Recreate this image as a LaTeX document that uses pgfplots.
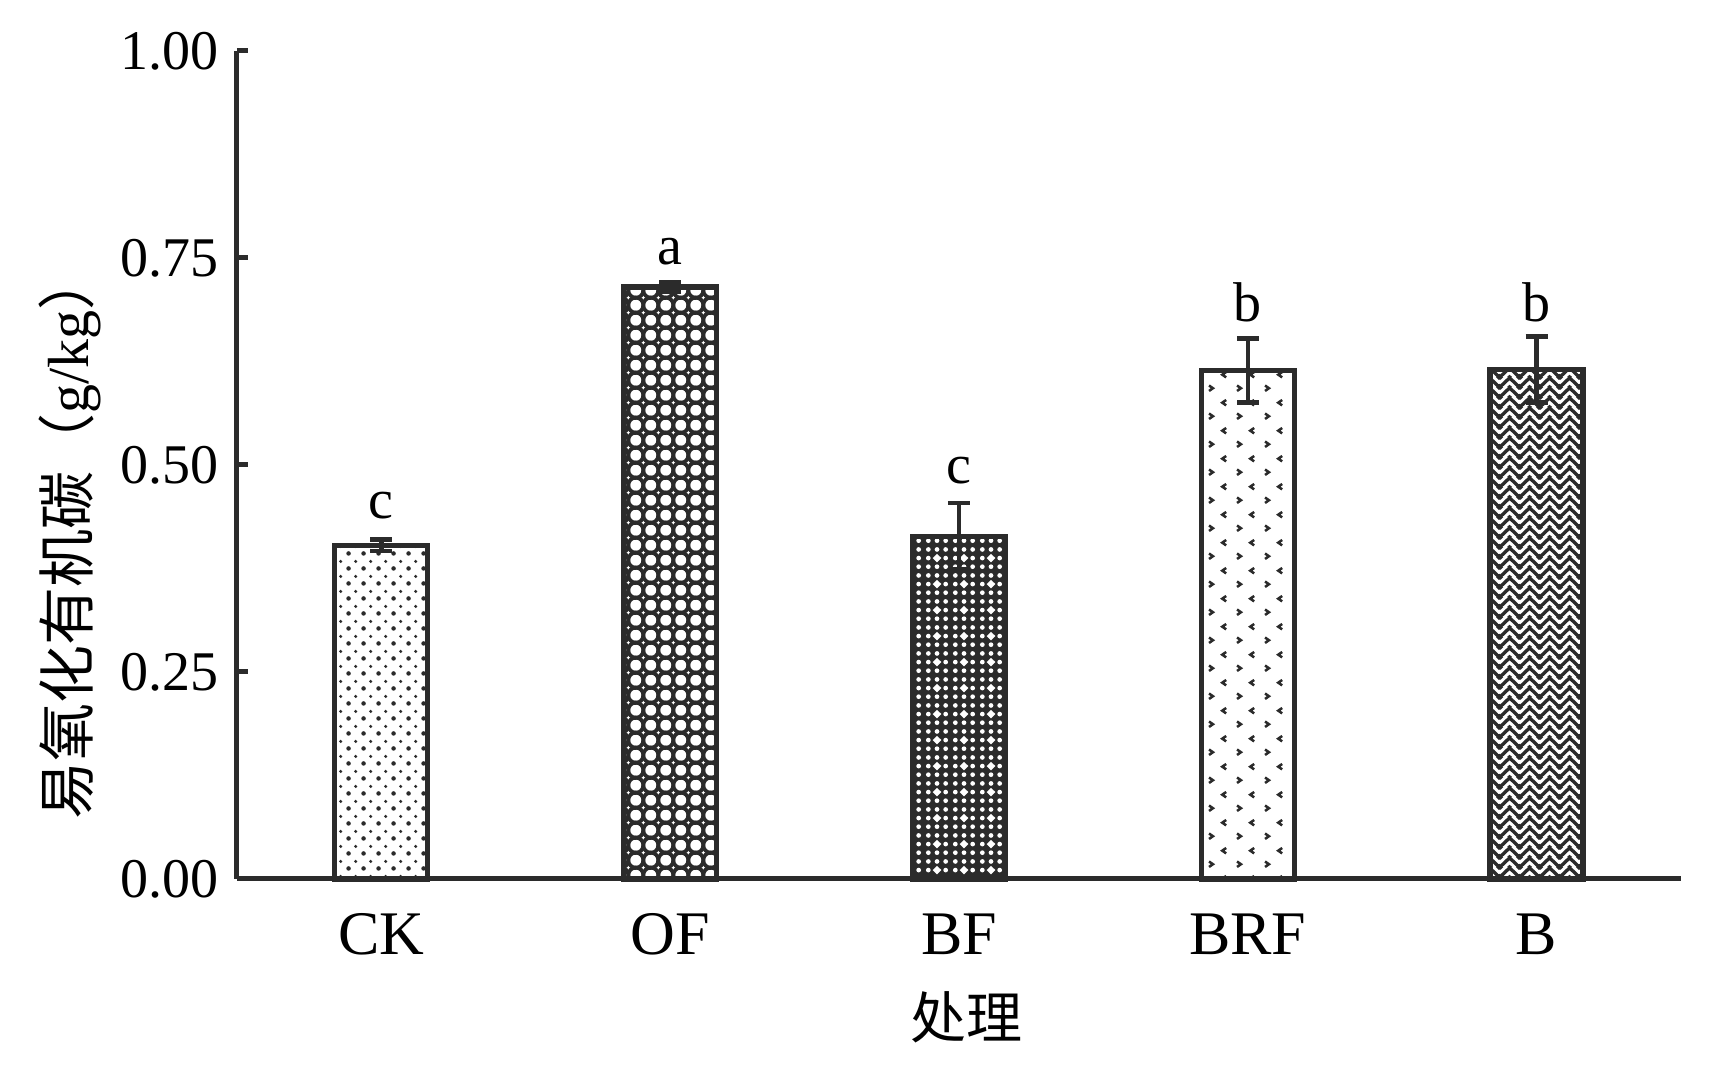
\documentclass[border=0pt]{standalone}
\usepackage{fontspec}
\setmainfont{Liberation Serif}
\newfontfamily\cjk{Noto Sans CJK SC}
\usepackage{pgfplots}
\pgfplotsset{compat=1.18}
\usetikzlibrary{patterns}
\definecolor{ink}{HTML}{2B2B2B}

% CK: staggered dots
\pgfdeclarepatterninherentlycolored{ckdots}{\pgfpointorigin}{\pgfpoint{3.75pt}{3.75pt}}{\pgfpoint{3.75pt}{3.75pt}}{%
  \pgfsetfillcolor{ink}%
  \pgfpathcircle{\pgfpoint{0.94pt}{0.94pt}}{0.6pt}\pgfusepath{fill}%
  \pgfpathcircle{\pgfpoint{2.81pt}{2.81pt}}{0.45pt}\pgfusepath{fill}%
}
% OF: circle mesh
\pgfdeclarepatterninherentlycolored{ofmesh}{\pgfpointorigin}{\pgfpoint{3.7pt}{3.7pt}}{\pgfpoint{3.7pt}{3.7pt}}{%
  \pgfsetstrokecolor{ink}\pgfsetlinewidth{0.95pt}%
  \pgfpathcircle{\pgfpoint{0pt}{0pt}}{1.85pt}\pgfusepath{stroke}%
  \pgfpathcircle{\pgfpoint{3.7pt}{0pt}}{1.85pt}\pgfusepath{stroke}%
  \pgfpathcircle{\pgfpoint{0pt}{3.7pt}}{1.85pt}\pgfusepath{stroke}%
  \pgfpathcircle{\pgfpoint{3.7pt}{3.7pt}}{1.85pt}\pgfusepath{stroke}%
}
% BF: dark with white holes
\pgfdeclarepatterninherentlycolored{bfmesh}{\pgfpointorigin}{\pgfpoint{6.6pt}{6.6pt}}{\pgfpoint{6.6pt}{6.6pt}}{%
  \pgfsetfillcolor{ink}%
  \pgfpathrectangle{\pgfpointorigin}{\pgfpoint{6.6pt}{6.6pt}}\pgfusepath{fill}%
  \pgfsetfillcolor{white}%
  \pgfpathcircle{\pgfpoint{1.1pt}{1.1pt}}{0.6pt}\pgfusepath{fill}%
  \pgfpathcircle{\pgfpoint{3.3pt}{1.1pt}}{0.6pt}\pgfusepath{fill}%
  \pgfpathcircle{\pgfpoint{5.5pt}{1.1pt}}{0.6pt}\pgfusepath{fill}%
  \pgfpathcircle{\pgfpoint{1.1pt}{3.3pt}}{0.6pt}\pgfusepath{fill}%
  \pgfpathcircle{\pgfpoint{5.5pt}{3.3pt}}{0.6pt}\pgfusepath{fill}%
  \pgfpathcircle{\pgfpoint{1.1pt}{5.5pt}}{0.6pt}\pgfusepath{fill}%
  \pgfpathcircle{\pgfpoint{3.3pt}{5.5pt}}{0.6pt}\pgfusepath{fill}%
  \pgfpathcircle{\pgfpoint{5.5pt}{5.5pt}}{0.6pt}\pgfusepath{fill}%
  \pgfpathmoveto{\pgfpoint{3.3pt}{2.2pt}}\pgfpathlineto{\pgfpoint{4.4pt}{3.3pt}}%
  \pgfpathlineto{\pgfpoint{3.3pt}{4.4pt}}\pgfpathlineto{\pgfpoint{2.2pt}{3.3pt}}\pgfpathclose\pgfusepath{fill}%
}
% BRF: sparse chevrons
\pgfdeclarepatterninherentlycolored{brfchev}{\pgfpointorigin}{\pgfpoint{7pt}{7pt}}{\pgfpoint{7pt}{7pt}}{%
  \pgfsetstrokecolor{ink}\pgfsetlinewidth{0.65pt}%
  \pgfpathmoveto{\pgfpoint{1.3pt}{2.45pt}}\pgfpathlineto{\pgfpoint{2.3pt}{1.75pt}}\pgfpathlineto{\pgfpoint{1.3pt}{1.05pt}}\pgfusepath{stroke}%
  \pgfpathmoveto{\pgfpoint{5.7pt}{5.95pt}}\pgfpathlineto{\pgfpoint{4.7pt}{5.25pt}}\pgfpathlineto{\pgfpoint{5.7pt}{4.55pt}}\pgfusepath{stroke}%
}
% B: zigzag weave
\pgfdeclarepatterninherentlycolored{bweave}{\pgfpointorigin}{\pgfpoint{5pt}{2.5pt}}{\pgfpoint{5pt}{2.5pt}}{%
  \pgfsetstrokecolor{ink}\pgfsetlinewidth{0.9pt}%
  \pgfpathmoveto{\pgfpoint{-2.5pt}{0pt}}\pgfpathlineto{\pgfpoint{0pt}{-2.5pt}}\pgfpathlineto{\pgfpoint{2.5pt}{0pt}}\pgfpathlineto{\pgfpoint{5pt}{-2.5pt}}\pgfpathlineto{\pgfpoint{7.5pt}{0pt}}\pgfusepath{stroke}%
  \pgfpathmoveto{\pgfpoint{-2.5pt}{2.5pt}}\pgfpathlineto{\pgfpoint{0pt}{0pt}}\pgfpathlineto{\pgfpoint{2.5pt}{2.5pt}}\pgfpathlineto{\pgfpoint{5pt}{0pt}}\pgfpathlineto{\pgfpoint{7.5pt}{2.5pt}}\pgfusepath{stroke}%
  \pgfpathmoveto{\pgfpoint{-2.5pt}{5pt}}\pgfpathlineto{\pgfpoint{0pt}{2.5pt}}\pgfpathlineto{\pgfpoint{2.5pt}{5pt}}\pgfpathlineto{\pgfpoint{5pt}{2.5pt}}\pgfpathlineto{\pgfpoint{7.5pt}{5pt}}\pgfusepath{stroke}%
}

\pgfplotsset{
  mybar/.style={ybar, bar width=23.25pt, bar shift=0pt, draw=ink, line width=1.3pt, pattern=#1,
    error bars/.cd, y dir=both, y explicit,
    error mark=|,
    error bar style={draw=ink, line width=1.1pt},
    error mark options={draw=ink, line width=1.2pt, mark size=2.75pt, solid}},
}

\begin{document}
\begin{tikzpicture}
\begin{axis}[name=ax, scale only axis, width=361pt, height=207pt,
  xmin=-0.5, xmax=4.5, ymin=0, ymax=1,
  axis x line*=bottom, axis y line*=left,
  axis line style={ink, line width=1.25pt},
  xtick={0,1,2,3,4}, xticklabels={CK,OF,BF,BRF,B},
  x tick style={draw=none},
  ytick={0,0.25,0.5,0.75,1},
  y tick style={ink, line width=1.25pt},
  tick align=inside, major tick length=2.75pt,
  yticklabel style={/pgf/number format/fixed, /pgf/number format/fixed zerofill,
    /pgf/number format/precision=2, /pgf/number format/assume math mode=true,
    font=\fontsize{14}{16}\selectfont, xshift=-1.2pt},
  xticklabel style={font=\fontsize{15.5}{18}\selectfont, yshift=-5.2pt},
  xlabel={{\cjk 处理}},
  xlabel style={at={(axis description cs:0.505,0)}, anchor=center, yshift=-34.5pt, font=\fontsize{14}{16}\selectfont},
  ylabel={{\cjk 易氧化有机碳（}g/kg{\cjk ）}},
  ylabel style={at={(axis description cs:-0.1157,0.071)}, anchor=west, inner sep=0pt, font=\fontsize{14.5}{17}\selectfont},
  clip=false,
]
\addplot[mybar=ckdots]  coordinates {(0,0.403) +- (0,0.007)};
\addplot[mybar=ofmesh]  coordinates {(1,0.715) +- (0,0.005)};
\addplot[mybar=bfmesh]  coordinates {(2,0.414) +- (0,0.040)};
\addplot[mybar=brfchev] coordinates {(3,0.614) +- (0,0.039)};
\addplot[mybar=bweave]  coordinates {(4,0.615) +- (0,0.040)};
\node[anchor=base, font=\fontsize{14}{16}\selectfont] at (axis cs:0,0.435) {c};
\node[anchor=base, font=\fontsize{14}{16}\selectfont] at (axis cs:1,0.742) {a};
\node[anchor=base, font=\fontsize{14}{16}\selectfont] at (axis cs:2,0.478) {c};
\node[anchor=base, font=\fontsize{14}{16}\selectfont] at (axis cs:3,0.673) {b};
\node[anchor=base, font=\fontsize{14}{16}\selectfont] at (axis cs:4,0.673) {b};
\end{axis}
\pgfresetboundingbox
\path (ax.south west) ++(-59.25pt,-47pt) rectangle ++(429.5pt,266.75pt);
\end{tikzpicture}
\end{document}
